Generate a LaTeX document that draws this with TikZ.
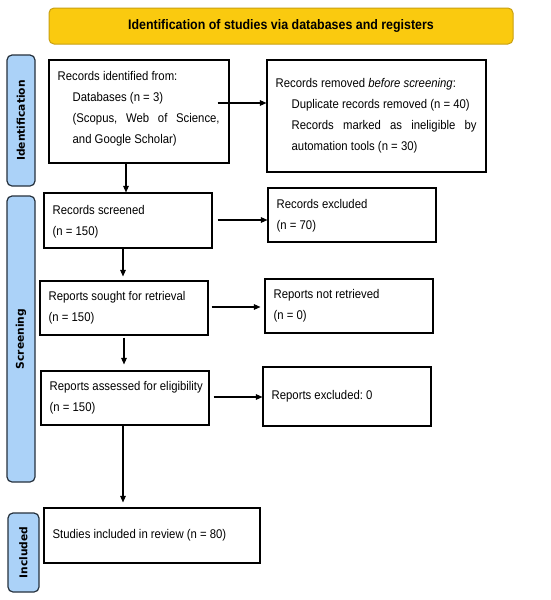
\documentclass[tikz,border=0pt]{standalone}
\usepackage{fontspec}
\setmainfont[FakeStretch=0.9]{Liberation Sans}
\newfontfamily\lblfont{DejaVu Sans}
\usetikzlibrary{arrows.meta,calc}
\definecolor{gold}{HTML}{FACA0F}
\definecolor{goldline}{HTML}{C9A010}
\definecolor{sideblue}{HTML}{ABD2F8}
\definecolor{sideline}{HTML}{26313D}
\frenchspacing
\begin{document}
\begin{tikzpicture}[x=1pt,y=-1pt,
  box/.style={draw=black,line width=1.1pt,rectangle,inner sep=0pt},
  txt/.style={anchor=west,align=left,inner sep=0pt,
    font=\fontsize{12.6}{21}\selectfont},
  banner/.style={draw=goldline,fill=gold,line width=1pt,rounded corners=5pt,
    font=\bfseries\fontsize{13.8}{15}\selectfont},
  side/.style={draw=sideline,fill=sideblue,line width=1.2pt,rounded corners=5pt},
  sidetxt/.style={rotate=90,font=\lblfont\bfseries\fontsize{10.7}{12}\selectfont},
  arr/.style={line width=1.1pt,-{Triangle[length=6.5pt,width=5.5pt]}}]
\useasboundingbox (0,0) rectangle (550,600);
\fill[white] (0,0) rectangle (550,600);

% banner
\node[banner,minimum width=464pt,minimum height=36pt] (ban) at (281,26)
  {Identification of studies via databases and registers};

% side labels
\node[side,minimum width=28pt,minimum height=131pt] (sid) at (21,120.5) {};
\node[sidetxt] (sidt) at (sid.center) {Identification};
\node[side,minimum width=28pt,minimum height=286pt] (ssc) at (21,339) {};
\node[sidetxt] (ssct) at (ssc.center) {Screening};
\node[side,minimum width=31pt,minimum height=79pt] (sin) at (23.5,552.5) {};
\node[sidetxt] (sint) at (sin.center) {Included};

% boxes
\node[box,minimum width=180pt,minimum height=103pt] (b1) at (139,111.5) {};
\node[txt] (b1t) at ([xshift=9pt,yshift=3pt]b1.west)
  {Records identified from:\\
   \hspace*{15pt}Databases (n = 3)\\
   \hspace*{15pt}\makebox[147pt][s]{(Scopus, Web of Science,}\\
   \hspace*{15pt}and Google Scholar)};
\node[box,minimum width=219pt,minimum height=112pt] (b2) at (376.5,116) {};
\node[txt] (b2t) at ([xshift=9pt]b2.west)
  {Records removed \textit{before screening}:\\
   \hspace*{16pt}Duplicate records removed (n = 40)\\
   \hspace*{16pt}\makebox[185pt][s]{Records marked as ineligible by}\\
   \hspace*{16pt}automation tools (n = 30)};

\node[box,minimum width=168pt,minimum height=55pt] (s1) at (128,220.5) {};
\node[txt] (s1t) at ([xshift=9pt,yshift=-1pt]s1.west) {Records screened\\(n = 150)};
\node[box,minimum width=168pt,minimum height=54pt] (e1) at (352,215) {};
\node[txt] (e1t) at ([xshift=9pt,yshift=-0.5pt]e1.west) {Records excluded\\(n = 70)};
\node[box,minimum width=168pt,minimum height=54pt] (s2) at (124,308) {};
\node[txt] (s2t) at ([xshift=9pt]s2.west) {Reports sought for retrieval\\(n = 150)};
\node[box,minimum width=168pt,minimum height=54pt] (e2) at (349,306) {};
\node[txt] (e2t) at ([xshift=9pt]e2.west) {Reports not retrieved\\(n = 0)};
\node[box,minimum width=168pt,minimum height=54pt] (s3) at (125,398) {};
\node[txt] (s3t) at ([xshift=9pt]s3.west) {Reports assessed for eligibility\\(n = 150)};
\node[box,minimum width=168pt,minimum height=59pt] (e3) at (347,396.5) {};
\node[txt] (e3t) at ([xshift=9pt]e3.west) {Reports excluded: 0};
\node[box,minimum width=216pt,minimum height=55pt] (inc) at (152,535.5) {};
\node[txt] (inct) at ([xshift=9pt]inc.west) {Studies included in review (n = 80)};

% horizontal arrows
\draw[arr] ([xshift=-12pt,yshift=8.5pt]b1.east) coordinate (h1) -- (h1 -| b2.west);
\draw[arr,shorten <=5pt] ([yshift=0.5pt]s1.east) coordinate (h2) -- (h2 -| e1.west);
\draw[arr,shorten <=3pt,shorten >=4pt] ([yshift=1pt]s2.east) coordinate (h3) -- (h3 -| e2.west);
\draw[arr,shorten <=4pt] ([yshift=1pt]s3.east) coordinate (h4) -- (h4 -| e3.west);

% vertical arrows
\draw[arr] ([xshift=-13pt]b1.south) coordinate (v1) -- (v1 |- s1.north);
\draw[arr,shorten >=4pt] ([xshift=-5pt]s1.south) coordinate (v2) -- (v2 |- s2.north);
\draw[arr,shorten <=2pt,shorten >=6pt] (s2.south) coordinate (v3) -- (v3 |- s3.north);
\draw[arr,shorten >=5pt] ([xshift=-2pt]s3.south) coordinate (v4) -- (v4 |- inc.north);
\end{tikzpicture}
\end{document}
